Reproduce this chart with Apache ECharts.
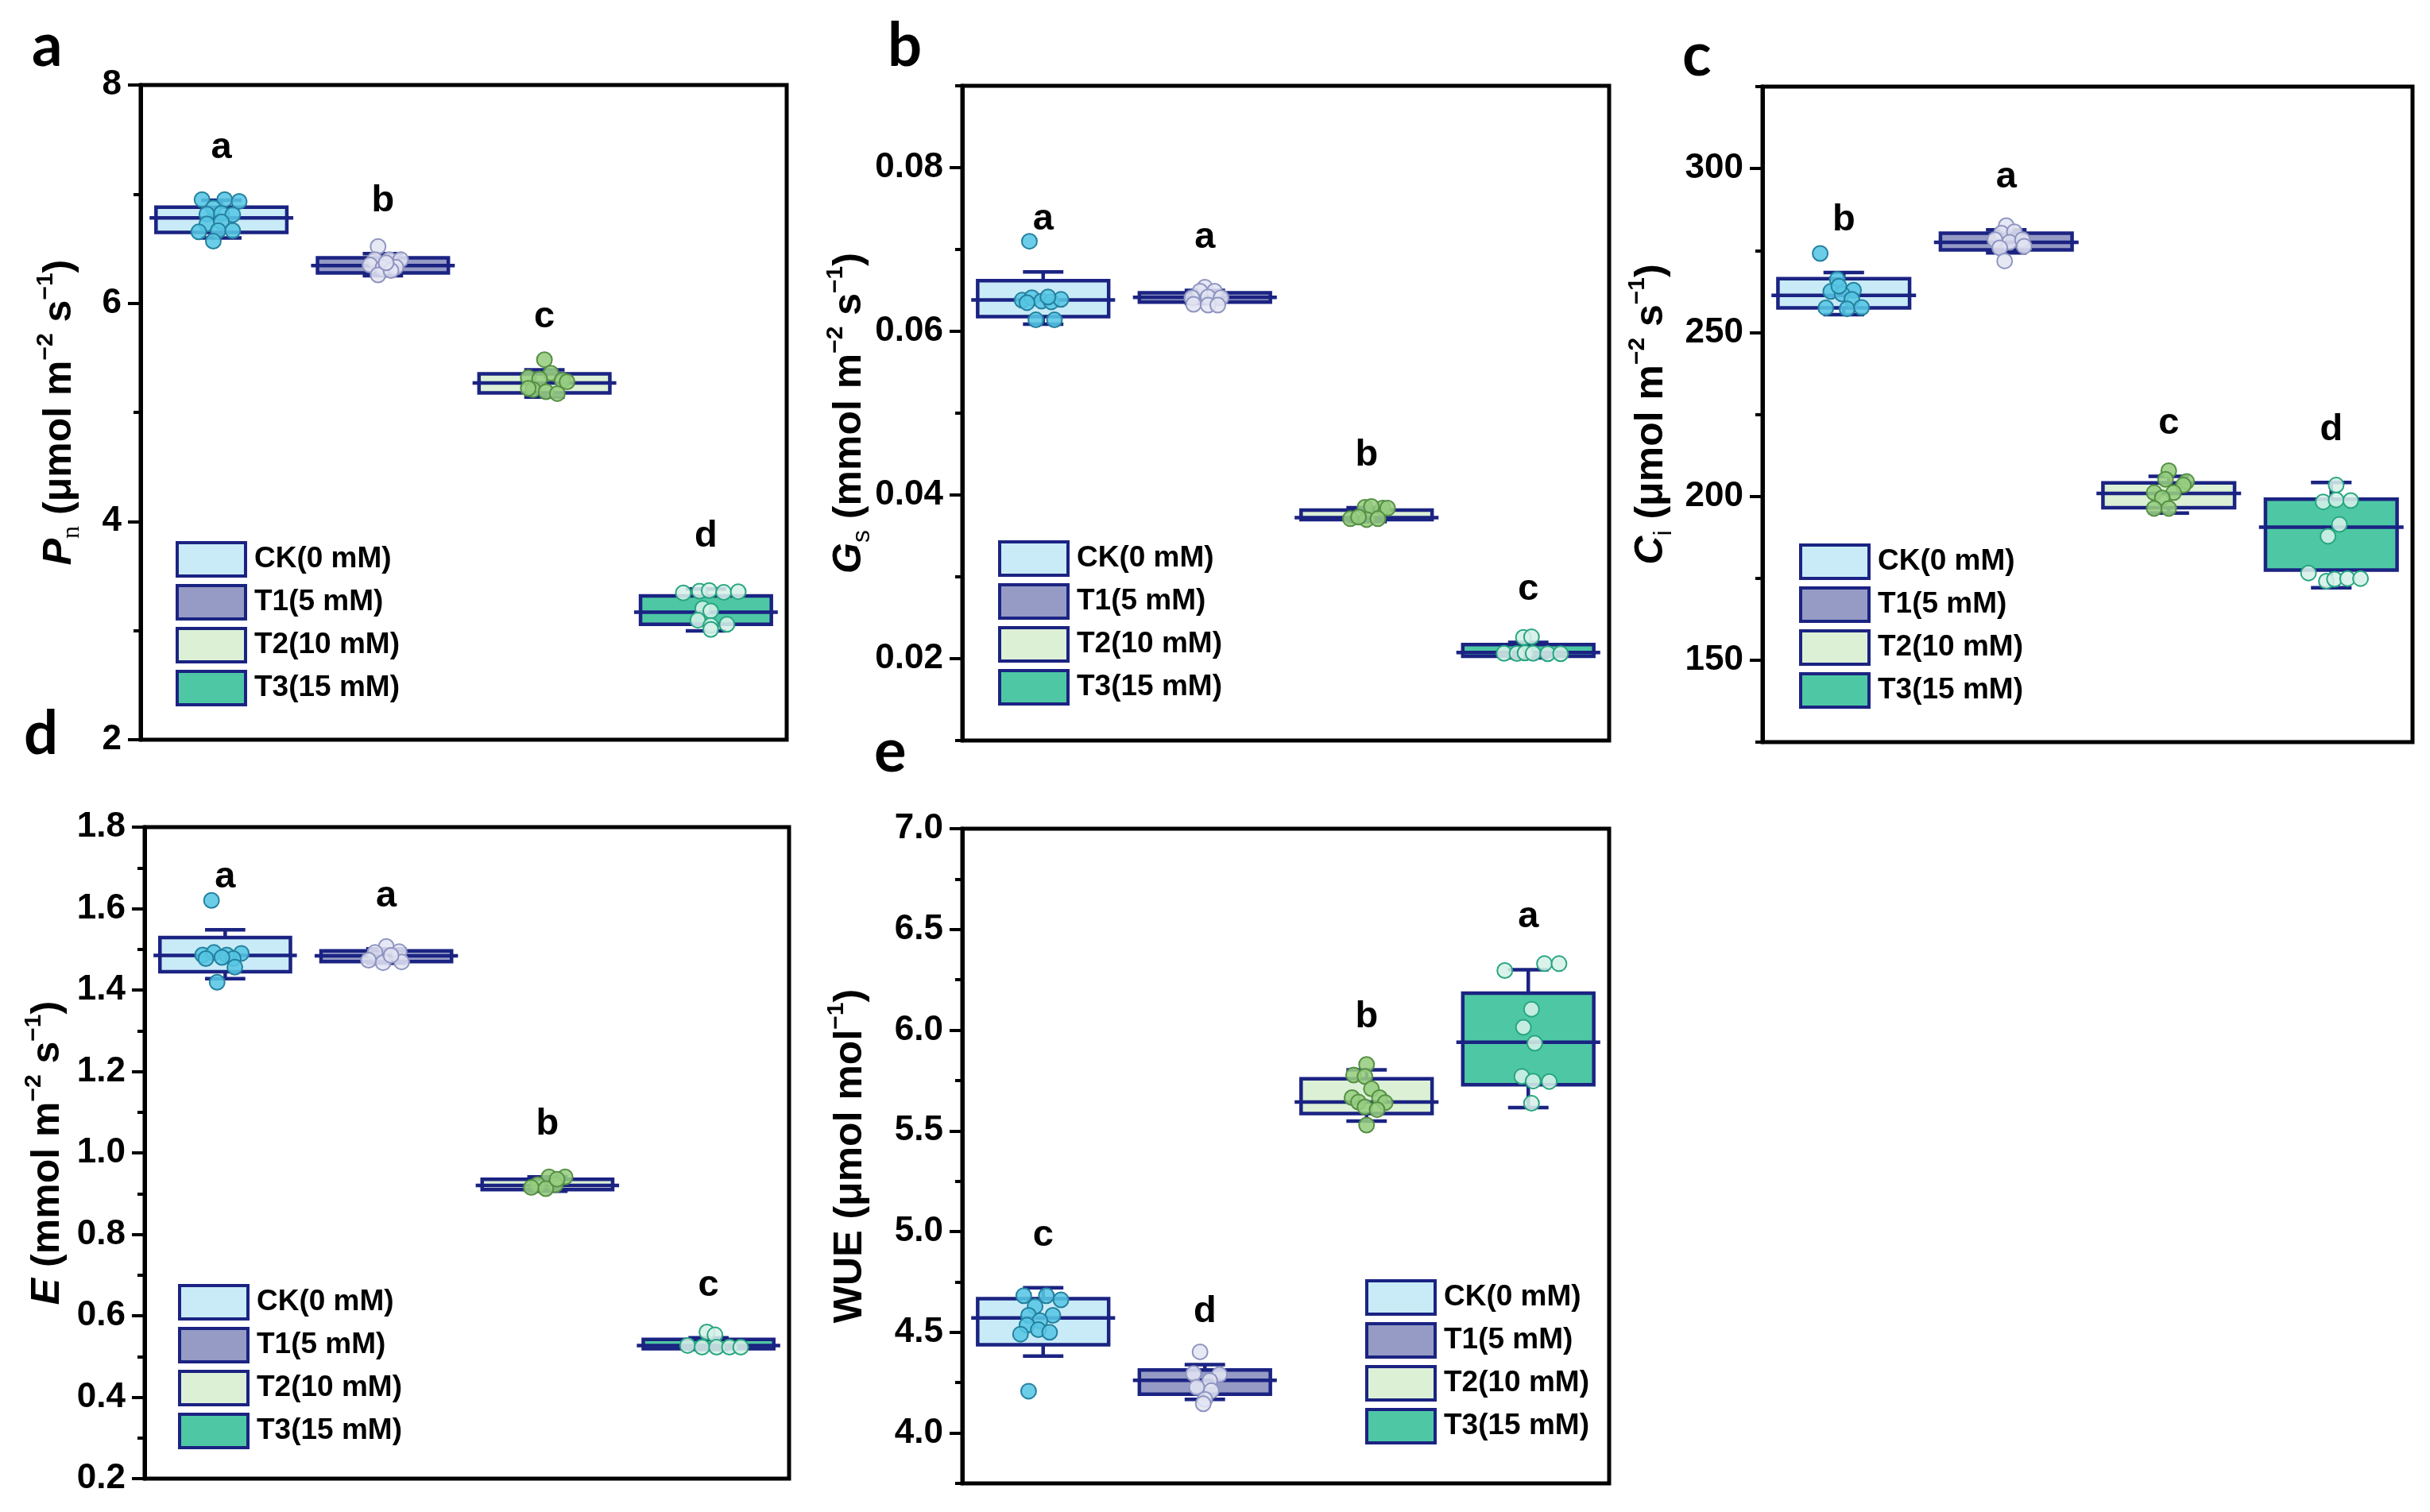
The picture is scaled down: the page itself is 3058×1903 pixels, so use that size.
<!DOCTYPE html>
<html><head><meta charset="utf-8">
<script src="https://cdn.jsdelivr.net/npm/echarts@6/dist/echarts.min.js"></script>
<style>html,body{margin:0;padding:0;background:#fff}#c{width:3058px;height:1903px}</style>
</head><body><div id="c"></div>
<script>
// ---------- data ----------
const groups = ['CK(0 mM)', 'T1(5 mM)', 'T2(10 mM)', 'T3(15 mM)'];

// box stats per group: [lower whisker, Q1, centre line, Q3, upper whisker]
const pnStats  = [[6.598, 6.649, 6.783, 6.880, 6.945], [6.253, 6.278, 6.345, 6.416, 6.455], [5.140, 5.179, 5.269, 5.354, 5.390], [2.998, 3.058, 3.168, 3.318, 3.381]];
const gsStats  = [[0.06088, 0.06179, 0.06383, 0.06618, 0.06725], [0.0634, 0.06358, 0.06416, 0.06471, 0.0650], [0.03675, 0.03698, 0.03724, 0.03815, 0.03844], [0.0201, 0.0203, 0.02075, 0.02173, 0.0220]];
const ciStats  = [[255.4, 257.5, 261.3, 266.4, 268.3], [274.3, 275.2, 277.5, 280.3, 281.3], [194.9, 196.5, 200.9, 204.1, 206.1], [172.1, 177.5, 190.6, 199.1, 204.2]];
const eStats   = [[1.428, 1.445, 1.485, 1.529, 1.548], [1.466, 1.470, 1.484, 1.496, 1.501], [0.906, 0.910, 0.920, 0.935, 0.941], [0.517, 0.519, 0.527, 0.542, 0.546]];
const wueStats = [[4.382, 4.438, 4.571, 4.667, 4.721], [4.167, 4.193, 4.262, 4.313, 4.340], [5.549, 5.586, 5.643, 5.759, 5.803], [5.616, 5.729, 5.940, 6.184, 6.300]];

// individual observations per group: [horizontal jitter (category units), value]
const pnPts = [
  [[-0.12,6.95],[0.02,6.95],[0.11,6.934],[-0.05,6.873],[-0.09,6.817],[0.0,6.824],[0.07,6.812],[-0.09,6.727],[0.0,6.746],[-0.14,6.654],[-0.02,6.666],[0.07,6.666],[-0.05,6.569]],
  [[-0.03,6.52],[-0.05,6.399],[0.04,6.399],[0.11,6.399],[-0.08,6.35],[0.0,6.326],[0.08,6.33],[-0.03,6.26],[0.05,6.30],[0.02,6.37]],
  [[0.0,5.483],[0.04,5.359],[-0.1,5.318],[-0.03,5.306],[0.11,5.294],[-0.07,5.208],[0.01,5.189],[0.08,5.172],[-0.1,5.22],[0.14,5.28]],
  [[-0.14,3.345],[-0.04,3.362],[0.02,3.367],[0.11,3.35],[0.2,3.357],[-0.02,3.204],[0.03,3.18],[-0.05,3.095],[0.03,3.046],[0.13,3.058],[0.03,3.01]]
];
const gsPts = [
  [[-0.085,0.0710],[-0.13,0.0638],[-0.07,0.0641],[-0.01,0.0637],[0.05,0.0636],[0.11,0.0639],[-0.1,0.0635],[0.03,0.0642],[-0.045,0.0614],[0.07,0.0614]],
  [[0,0.0654],[-0.03,0.0649],[0.06,0.0649],[-0.08,0.0641],[0.02,0.0642],[0.1,0.0641],[-0.07,0.0633],[0.02,0.0632],[0.08,0.0632]],
  [[-0.01,0.0385],[0.1,0.0384],[0.03,0.0386],[0.13,0.0384],[-0.1,0.0371],[0,0.0370],[0.07,0.0371],[-0.05,0.0373]],
  [[-0.03,0.0226],[0.02,0.02266],[-0.15,0.02065],[-0.07,0.02062],[-0.02,0.0207],[0.03,0.02065],[0.12,0.0206],[0.2,0.0206]]
];
const ciPts = [
  [[-0.145,274.1],[-0.04,266.2],[-0.08,262.5],[0.06,262.9],[-0.01,261.7],[0.05,260.1],[-0.11,257.5],[0.02,257.2],[0.11,257.6],[-0.03,264.1]],
  [[0,282.6],[-0.03,280.3],[0.05,280.7],[-0.07,278.3],[0.02,277.5],[0.1,278.3],[0.11,276.3],[-0.04,275.8],[-0.01,271.8]],
  [[0,207.8],[0.11,204.5],[0.09,203.4],[-0.02,205.2],[-0.09,201.1],[0.03,201.1],[-0.04,199.5],[-0.09,196.3],[0,196.3]],
  [[0.03,203.4],[-0.05,198.3],[0.03,198.9],[0.12,198.7],[0.05,191.4],[-0.02,187.8],[-0.14,176.6],[-0.03,174.1],[0.02,174.7],[0.1,174.9],[0.18,174.9]]
];
const ePts = [
  [[-0.085,1.62],[-0.14,1.486],[-0.07,1.492],[0.01,1.486],[0.1,1.49],[-0.12,1.477],[0.05,1.477],[0.06,1.456],[-0.05,1.419],[-0.02,1.48]],
  [[0,1.507],[-0.07,1.492],[0.08,1.494],[-0.11,1.473],[-0.02,1.467],[0.095,1.469],[0.03,1.485]],
  [[0.01,0.941],[0.11,0.941],[-0.06,0.922],[0.05,0.922],[-0.1,0.915],[-0.01,0.912],[0.06,0.935]],
  [[-0.01,0.56],[0.04,0.553],[-0.13,0.527],[-0.04,0.523],[0.05,0.523],[0.13,0.523],[0.2,0.523]]
];
const wuePts = [
  [[-0.09,4.208],[-0.12,4.682],[0.02,4.682],[0.11,4.661],[-0.05,4.629],[-0.09,4.584],[0.06,4.584],[-0.02,4.558],[-0.1,4.536],[-0.03,4.513],[-0.14,4.491],[0.04,4.5]],
  [[-0.03,4.403],[-0.07,4.295],[0.09,4.29],[0.03,4.26],[-0.05,4.227],[0.04,4.21],[0,4.167],[-0.01,4.145]],
  [[0,5.83],[-0.08,5.777],[-0.01,5.77],[0.03,5.709],[-0.09,5.665],[0.08,5.665],[-0.05,5.643],[0.115,5.64],[-0.01,5.619],[0.065,5.605],[0,5.529]],
  [[-0.145,6.296],[0.1,6.33],[0.19,6.33],[0.02,6.104],[-0.03,6.014],[0.04,5.935],[-0.04,5.77],[0.03,5.747],[0.13,5.745],[0.02,5.637]]
];

// significance letters
const pnLetters  = ['a', 'b', 'c', 'd'];
const gsLetters  = ['a', 'a', 'b', 'c'];
const ciLetters  = ['b', 'a', 'c', 'd'];
const eLetters   = ['a', 'a', 'b', 'c'];
const wueLetters = ['c', 'd', 'b', 'a'];

// axis ticks
const pnMajor = [2, 4, 6, 8],               pnMinor = [3, 5, 7];
const gsMajor = [0.02, 0.04, 0.06, 0.08],   gsMinor = [0.01, 0.03, 0.05, 0.07, 0.09];
const ciMajor = [150, 200, 250, 300],       ciMinor = [125, 175, 225, 275, 325];
const eMajor  = [0.2, 0.4, 0.6, 0.8, 1.0, 1.2, 1.4, 1.6, 1.8], eMinor = [0.3, 0.5, 0.7, 0.9, 1.1, 1.3, 1.5, 1.7];
const wueMajor = [4.0, 4.5, 5.0, 5.5, 6.0, 6.5, 7.0], wueMinor = [3.75, 4.25, 4.75, 5.25, 5.75, 6.25, 6.75];

// ---------- styles ----------
const NAVY = '#1b2382';
const BOX_FILL = ['#c8ebf7', '#959bc5', '#dcf0d5', '#4ec8a4'];
const PT_FILL = ['rgba(86,198,228,0.88)', 'rgba(226,229,243,0.88)', 'rgba(150,205,128,0.88)', 'rgba(214,240,232,0.88)'];
const PT_EDGE = ['#25809f', '#8f95c0', '#558f44', '#27a680'];
const SANS = '"Liberation Sans", Arial, sans-serif';

const panels = [
  { grid: {left: 177, top: 107, width: 813, height: 824}, min: 2, max: 8, interval: 2, major: pnMajor, minor: pnMinor, dec: 0,
    name: '{it|P}{sub|n}{t| (μmol m}{sup|−2}{t| s}{sup|−1}{t|)}', nameGap: 70,
    legend: {left: 221, top: 681}, stats: pnStats, pts: pnPts, letters: pnLetters },
  { grid: {left: 1211, top: 108, width: 814, height: 824}, min: 0.01, max: 0.09, interval: 0.01, major: gsMajor, minor: gsMinor, dec: 2,
    name: '{it|G}{subs|s}{t| (mmol m}{sup|−2}{t| s}{sup|−1}{t|)}', nameGap: 110,
    legend: {left: 1256, top: 680}, stats: gsStats, pts: gsPts, letters: gsLetters },
  { grid: {left: 2218, top: 109, width: 818, height: 825}, min: 125, max: 325, interval: 25, major: ciMajor, minor: ciMinor, dec: 0,
    name: '{it|C}{subs|i}{t| (μmol m}{sup|−2}{t| s}{sup|−1}{t|)}', nameGap: 108,
    legend: {left: 2264, top: 684}, stats: ciStats, pts: ciPts, letters: ciLetters },
  { grid: {left: 182, top: 1041, width: 811, height: 820}, min: 0.2, max: 1.8, interval: 0.2, major: eMajor, minor: eMinor, dec: 1,
    name: '{it|E}{t| (mmol m}{sup|−2}{t| s}{sup|−1}{t|)}', nameGap: 90,
    legend: {left: 224, top: 1616}, stats: eStats, pts: ePts, letters: eLetters },
  { grid: {left: 1211, top: 1043, width: 814, height: 824}, min: 3.75, max: 7.0, interval: 0.25, major: wueMajor, minor: wueMinor, dec: 1,
    name: '{t|WUE (μmol mol}{sup|−1}{t|)}', nameGap: 109,
    legend: {left: 1718, top: 1610}, stats: wueStats, pts: wuePts, letters: wueLetters }
];

const nameRich = {
  t:   {fontSize: 50, fontWeight: 'bold', fontFamily: SANS, color: '#000', lineHeight: 64},
  it:  {fontSize: 50, fontWeight: 'bold', fontStyle: 'italic', fontFamily: SANS, color: '#000', lineHeight: 64},
  sub: {fontSize: 32, fontFamily: '"Liberation Serif", serif', color: '#000', lineHeight: 30, verticalAlign: 'bottom'},
  subs:{fontSize: 32, fontFamily: SANS, color: '#000', lineHeight: 30, verticalAlign: 'bottom'},
  sup: {fontSize: 30, fontWeight: 'bold', fontFamily: SANS, color: '#000', lineHeight: 30, verticalAlign: 'top'}
};

const LETTER_GAP = 66;
function makeRender(letters) {
  return function (params, api) {
    const i = params.dataIndex;
    const x = api.value(0);
    const pLo = api.coord([x, api.value(1)]);
    const pQ1 = api.coord([x, api.value(2)]);
    const pMd = api.coord([x, api.value(3)]);
    const pQ3 = api.coord([x, api.value(4)]);
    const pHi = api.coord([x, api.value(5)]);
    const band = api.size([1, 0])[0];
    const cx = pMd[0];
    const bw = band * 0.405, cw = band * 0.125, mw = band * 0.445;
    const ls = {stroke: NAVY, lineWidth: 4.5};
    return {type: 'group', children: [
      {type: 'line', shape: {x1: cx, y1: pQ3[1], x2: cx, y2: pHi[1]}, style: ls},
      {type: 'line', shape: {x1: cx, y1: pQ1[1], x2: cx, y2: pLo[1]}, style: ls},
      {type: 'line', shape: {x1: cx - cw, y1: pHi[1], x2: cx + cw, y2: pHi[1]}, style: ls},
      {type: 'line', shape: {x1: cx - cw, y1: pLo[1], x2: cx + cw, y2: pLo[1]}, style: ls},
      {type: 'rect', shape: {x: cx - bw, y: pQ3[1], width: 2 * bw, height: pQ1[1] - pQ3[1]},
        style: {fill: BOX_FILL[i], stroke: NAVY, lineWidth: 4.5}},
      {type: 'line', shape: {x1: cx - mw, y1: pMd[1], x2: cx + mw, y2: pMd[1]}, style: ls},
      {type: 'text', x: cx, y: pHi[1] - LETTER_GAP,
        style: {text: letters[i], font: 'bold 47px ' + SANS, fill: '#000', align: 'center', verticalAlign: 'middle'}}
    ]};
  };
}

const grid = [], xAxis = [], yAxis = [], series = [], legend = [];
panels.forEach((p, pi) => {
  grid.push(Object.assign({show: true, borderColor: '#000', borderWidth: 5, backgroundColor: 'transparent',
    containLabel: false, outerBoundsMode: 'none'}, p.grid));
  xAxis.push({type: 'value', gridIndex: pi, min: -0.5, max: 3.5, show: false,
    axisLine: {onZero: false}});
  const isMajor = v => p.major.some(m => Math.abs(m - v) < 1e-9);
  yAxis.push({
    type: 'value', gridIndex: pi, min: p.min, max: p.max, interval: p.interval, position: 'left',
    axisLine: {show: true, onZero: false, lineStyle: {color: '#000', width: 5}},
    axisTick: {show: true, inside: false, length: 16, lineStyle: {color: '#000', width: 4}, customValues: p.major},
    minorTick: {show: false},
    splitLine: {show: false},
    axisLabel: {show: true, customValues: p.major, margin: 24, color: '#000', fontSize: 44, fontWeight: 'bold', fontFamily: SANS,
      showMinLabel: true, showMaxLabel: true,
      formatter: v => isMajor(v) ? Number(v).toFixed(p.dec) : ''},
    name: p.name, nameLocation: 'middle', nameGap: p.nameGap, nameMoveOverlap: false,
    nameTextStyle: {color: '#000', rich: nameRich}
  });
  yAxis.push({
    type: 'value', gridIndex: pi, min: p.min, max: p.max, interval: p.interval, position: 'left', offset: 0,
    axisLine: {show: false, onZero: false}, splitLine: {show: false}, axisLabel: {show: false},
    axisTick: {show: true, inside: false, length: 9, lineStyle: {color: '#000', width: 4}, customValues: p.minor}
  });
  const yIdx = pi * 2;
  series.push({
    type: 'custom', xAxisIndex: pi, yAxisIndex: yIdx, clip: false, z: 2,
    renderItem: makeRender(p.letters),
    encode: {x: 0, y: [1, 2, 3, 4, 5]},
    data: p.stats.map((s, i) => [i].concat(s))
  });
  p.pts.forEach((g, gi) => {
    series.push({
      type: 'scatter', xAxisIndex: pi, yAxisIndex: yIdx, z: 5, symbol: 'circle', symbolSize: 19,
      itemStyle: {color: PT_FILL[gi], borderColor: PT_EDGE[gi], borderWidth: 2, opacity: 1},
      data: g.map(d => [gi + d[0], d[1]])
    });
  });
  if (pi === 0) {
    groups.forEach((g, gi) => series.push({type: 'scatter', name: g, xAxisIndex: 0, yAxisIndex: 0, data: [],
      itemStyle: {color: BOX_FILL[gi]}}));
  }
  legend.push({
    orient: 'vertical', left: p.legend.left, top: p.legend.top, padding: 0,
    itemWidth: 86, itemHeight: 42, itemGap: 8, icon: 'rect', selectedMode: false,
    textStyle: {fontSize: 37, fontWeight: 'bold', fontFamily: SANS, color: '#000', lineHeight: 42, padding: [0, 0, 0, 6]},
    data: groups.map((g, gi) => ({name: g, icon: 'rect',
      itemStyle: {color: BOX_FILL[gi], borderColor: NAVY, borderWidth: 4, opacity: 1}}))
  });
});

const LETTER_FONT = 'bold 76px Lato, "DejaVu Sans", sans-serif';
const panelLetters = [['a', 40, 58], ['b', 1117, 58], ['c', 2117, 70], ['d', 30, 924], ['e', 1100, 946]];

const chart = echarts.init(document.getElementById('c'), null, {renderer: 'canvas'});
chart.setOption({
  backgroundColor: '#fff',
  animation: false,
  grid, xAxis, yAxis, series, legend,
  graphic: panelLetters.map(l => ({type: 'text', x: l[1], y: l[2], z: 100,
    style: {text: l[0], font: LETTER_FONT, fill: '#000', align: 'left', verticalAlign: 'middle'}}))
});
</script></body></html>
